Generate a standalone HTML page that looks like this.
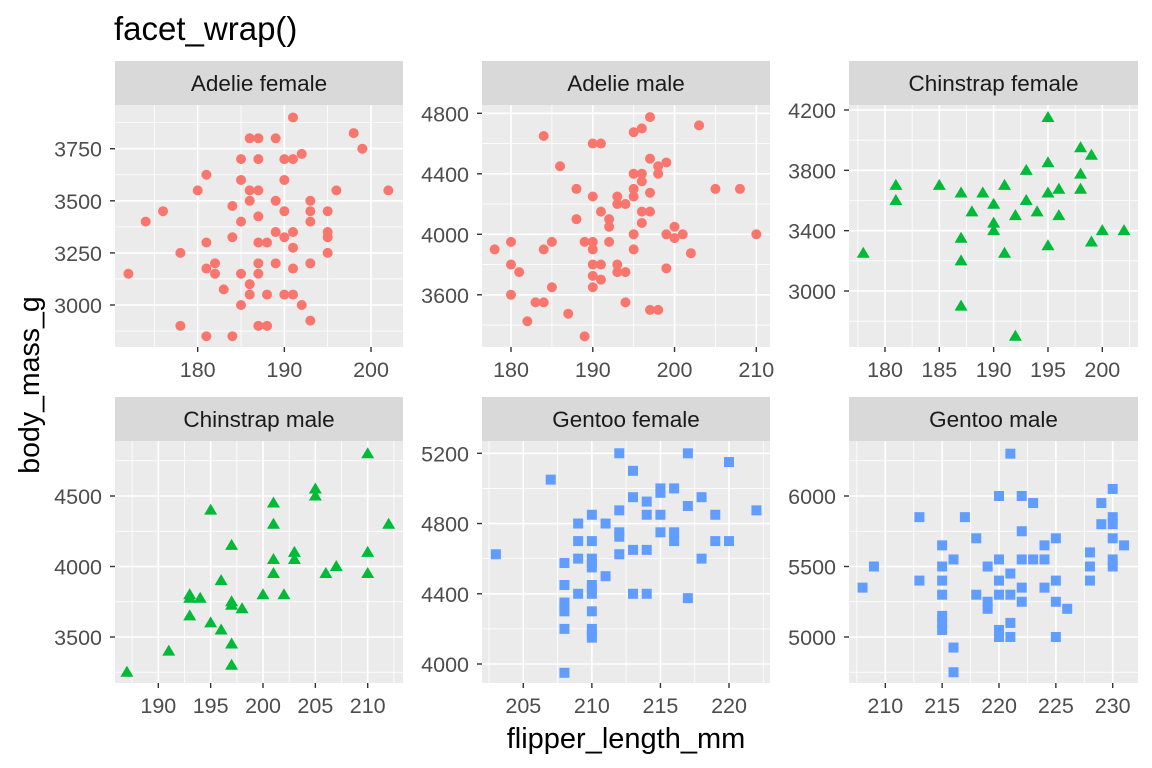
<!DOCTYPE html>
<html><head><meta charset="utf-8"><style>
html,body{margin:0;padding:0;background:#fff}
svg{display:block;font-family:"Liberation Sans",Arial,sans-serif}
</style></head><body>
<svg id="chart" width="1152" height="768" viewBox="0 0 1152 768" xmlns="http://www.w3.org/2000/svg">
<rect width="1152" height="768" fill="#fff"/>
<text x="114" y="40" font-size="33" fill="#000">facet_wrap()</text>
<text transform="translate(39,385) rotate(-90)" text-anchor="middle" font-size="28.5" fill="#000">body_mass_g</text>
<text x="626" y="748" text-anchor="middle" font-size="29" fill="#000">flipper_length_mm</text>
<g id="panels"></g>
</svg>
<script>
// data (flipper_length_mm, body_mass_g) per facet
const adelieFemaleX=[191,186,187,189,198,199,192,185,187,190,191,181,185,190,180,186,187,196,202,186,189,193,184,176,190,193,195,174,185,193,187,189,191,195,184,190,195,181,187,188,191,178,195,182,187,189,193,181,191,172,182,185,187,186,183,186,188,190,191,185,192,193,178,187,188,181,184];
const adelieFemaleY=[3900,3800,3800,3800,3825,3750,3725,3700,3700,3700,3700,3625,3600,3600,3550,3550,3550,3550,3550,3500,3500,3500,3475,3450,3450,3450,3450,3400,3400,3400,3425,3350,3350,3350,3325,3325,3325,3300,3300,3300,3275,3250,3250,3200,3200,3200,3200,3175,3175,3150,3150,3150,3150,3100,3075,3050,3050,3050,3050,3000,3000,2925,2900,2900,2900,2850,2850];
const adelieMaleX=[197,203,195,196,184,190,191,197,199,198,186,195,196,198,196,188,195,205,208,197,190,193,195,193,194,191,196,197,188,192,196,192,200,195,199,201,210,200,180,185,189,190,192,178,184,190,195,202,180,190,191,193,199,181,193,194,190,191,185,190,180,183,184,194,197,198,187,182,189];
const adelieMaleY=[4775,4720,4675,4700,4650,4600,4600,4500,4475,4450,4450,4400,4400,4400,4350,4300,4300,4300,4300,4275,4250,4250,4250,4200,4200,4150,4150,4150,4100,4100,4075,4050,4050,4000,4000,4000,4000,3975,3950,3950,3950,3950,3950,3900,3900,3900,3900,3875,3800,3800,3800,3800,3775,3750,3750,3750,3725,3700,3650,3650,3600,3550,3550,3550,3500,3500,3475,3425,3325];
const chinFemaleX=[195,178,181,181,185,187,189,188,190,190,190,191,191,187,187,187,192,192,193,193,194,195,195,195,196,196,198,198,198,199,199,200,202];
const chinFemaleY=[4150,3250,3700,3600,3700,3650,3650,3525,3575,3450,3400,3700,3250,3350,3200,2900,3500,2700,3800,3600,3525,3850,3650,3300,3675,3500,3950,3775,3675,3900,3325,3400,3400];
const chinMaleX=[187,191,195,193,193,194,193,195,196,196,197,197,197,197,197,198,200,201,201,201,201,202,203,203,205,205,206,207,210,210,210,212];
const chinMaleY=[3250,3400,4400,3800,3775,3775,3650,3600,3550,3900,4150,3750,3725,3450,3300,3700,3800,4450,4300,4050,3950,3800,4100,4050,4550,4500,3950,4000,4800,4100,3950,4300];
const gentooFemaleX=[203,207,208,208,208,208,208,208,208,209,209,209,209,210,210,210,210,210,210,210,210,210,210,210,210,211,211,212,212,212,212,212,213,213,213,213,214,214,214,214,215,215,215,215,216,216,216,217,217,217,218,218,219,219,220,220,222];
const gentooFemaleY=[4625,5050,4575,4450,4350,4325,4300,4200,3950,4800,4700,4600,4400,4850,4700,4600,4575,4550,4450,4425,4400,4300,4200,4175,4150,4800,4500,5200,4875,4750,4725,4625,5100,4950,4650,4400,4925,4850,4650,4400,5000,4975,4850,4750,5000,4750,4700,5200,4900,4375,4950,4600,4850,4700,5150,4700,4875];
const gentooMaleX=[208,209,213,213,215,215,215,215,215,215,215,216,216,216,217,218,218,219,219,219,220,220,220,220,220,220,221,221,221,221,221,222,222,222,222,222,223,223,224,224,224,225,225,225,225,226,228,228,228,229,229,230,230,230,230,230,230,231];
const gentooMaleY=[5350,5500,5850,5400,5650,5500,5400,5300,5150,5100,5050,5550,4925,4750,5850,5700,5300,5500,5250,5200,6000,5550,5400,5300,5050,5000,6300,5450,5300,5100,5000,6000,5750,5550,5350,5250,5950,5550,5650,5550,5350,5700,5400,5250,5000,5200,5600,5500,5400,5950,5800,6050,5850,5800,5700,5550,5500,5650];
// tick labels
const p1XTicks=[180,190,200], p1YTicks=[3000,3250,3500,3750];
const p2XTicks=[180,190,200,210], p2YTicks=[3600,4000,4400,4800];
const p3XTicks=[180,185,190,195,200], p3YTicks=[3000,3400,3800,4200];
const p4XTicks=[190,195,200,205,210], p4YTicks=[3500,4000,4500];
const p5XTicks=[205,210,215,220], p5YTicks=[4000,4400,4800,5200];
const p6XTicks=[210,215,220,225,230], p6YTicks=[5000,5500,6000];
const stripLabels=["Adelie female","Adelie male","Chinstrap female","Chinstrap male","Gentoo female","Gentoo male"];

const NS="http://www.w3.org/2000/svg";
function mk(tag,attrs,parent){const e=document.createElementNS(NS,tag);for(const k in attrs)e.setAttribute(k,attrs[k]);parent.appendChild(e);return e;}
function lin(d0,r0,d1,r1){return v=>r0+(v-d0)*(r1-r0)/(d1-d0);}

const panels=[
 {x0:115,x1:403,y0:105,y1:347,sx:lin(180,197.7,200,371),sy:lin(3000,305,3750,148.7),xt:p1XTicks,yt:p1YTicks,X:adelieFemaleX,Y:adelieFemaleY,col:"#F8766D",shape:"circle"},
 {x0:482,x1:770,y0:105,y1:347,sx:lin(180,511,210,756.3),sy:lin(4000,234.3,4800,113.3),xt:p2XTicks,yt:p2YTicks,X:adelieMaleX,Y:adelieMaleY,col:"#F8766D",shape:"circle"},
 {x0:849,x1:1138,y0:105,y1:347,sx:lin(180,885,200,1102.3),sy:lin(3000,291,4200,110),xt:p3XTicks,yt:p3YTicks,X:chinFemaleX,Y:chinFemaleY,col:"#00BA38",shape:"tri"},
 {x0:115,x1:403,y0:441,y1:683,sx:lin(190,158.3,210,367.7),sy:lin(3500,637,4500,496),xt:p4XTicks,yt:p4YTicks,X:chinMaleX,Y:chinMaleY,col:"#00BA38",shape:"tri"},
 {x0:482,x1:770,y0:441,y1:683,sx:lin(205,523.3,220,729),sy:lin(4000,664,5200,453.3),xt:p5XTicks,yt:p5YTicks,X:gentooFemaleX,Y:gentooFemaleY,col:"#619CFF",shape:"sq"},
 {x0:849,x1:1138,y0:441,y1:683,sx:lin(210,885.3,230,1112.7),sy:lin(5000,637,6000,496),xt:p6XTicks,yt:p6YTicks,X:gentooMaleX,Y:gentooMaleY,col:"#619CFF",shape:"sq"}
];
const root=document.getElementById("panels");
panels.forEach((p,i)=>{
 const g=mk("g",{},root);
 
 
 const strip=mk("rect",{x:p.x0,y:p.y0-44,width:p.x1-p.x0,height:44,fill:"#d9d9d9"},g);
 
 
 const st=mk("text",{x:(p.x0+p.x1)/2,y:p.y0-14,"text-anchor":"middle","font-size":"22.5",fill:"#1a1a1a"},g);
 st.textContent=stripLabels[i];
 
 
 const bg=mk("rect",{x:p.x0,y:p.y0,width:p.x1-p.x0,height:p.y1-p.y0,fill:"#ebebeb"},g);
 
 
 const xs=p.xt[1]-p.xt[0], ys=p.yt[1]-p.yt[0];
 for(let v=p.xt[0]-xs*1.5; v<=p.xt[p.xt.length-1]+xs*1.5; v+=xs){const x=p.sx(v); if(x>p.x0&&x<p.x1) mk("line",{x1:x,x2:x,y1:p.y0,y2:p.y1,stroke:"#fff","stroke-width":"0.8"},g);}
 for(let v=p.yt[0]-ys*1.5; v<=p.yt[p.yt.length-1]+ys*1.5; v+=ys){const y=p.sy(v); if(y>p.y0&&y<p.y1) mk("line",{x1:p.x0,x2:p.x1,y1:y,y2:y,stroke:"#fff","stroke-width":"0.8"},g);}
 p.xt.forEach(v=>{const x=p.sx(v);
  mk("line",{x1:x,x2:x,y1:p.y0,y2:p.y1,stroke:"#fff","stroke-width":"1.6"},g);
  mk("line",{x1:x,x2:x,y1:p.y1,y2:p.y1+5,stroke:"#333","stroke-width":"1.4"},g);
  const t=mk("text",{x:x,y:p.y1+30,"text-anchor":"middle","font-size":"21.5",fill:"#4d4d4d"},g);t.textContent=v;
  
  });
 p.yt.forEach(v=>{const y=p.sy(v);
  mk("line",{x1:p.x0,x2:p.x1,y1:y,y2:y,stroke:"#fff","stroke-width":"1.6"},g);
  mk("line",{x1:p.x0-5,x2:p.x0,y1:y,y2:y,stroke:"#333","stroke-width":"1.4"},g);
  const t=mk("text",{x:p.x0-13,y:y+8,"text-anchor":"end","font-size":"21.5",fill:"#4d4d4d"},g);t.textContent=v;
  
  });
 p.X.forEach((xv,j)=>{const cx=p.sx(xv), cy=p.sy(p.Y[j]); let m;
  if(p.shape==="circle") m=mk("circle",{cx:cx,cy:cy,r:5,fill:p.col},g);
  else if(p.shape==="tri") m=mk("polygon",{points:`${cx},${cy-6.5} ${cx-6.5},${cy+4.5} ${cx+6.5},${cy+4.5}`,fill:p.col},g);
  else m=mk("rect",{x:cx-5,y:cy-5,width:10,height:10,fill:p.col},g);
  
  });
});
</script>
</body></html>
